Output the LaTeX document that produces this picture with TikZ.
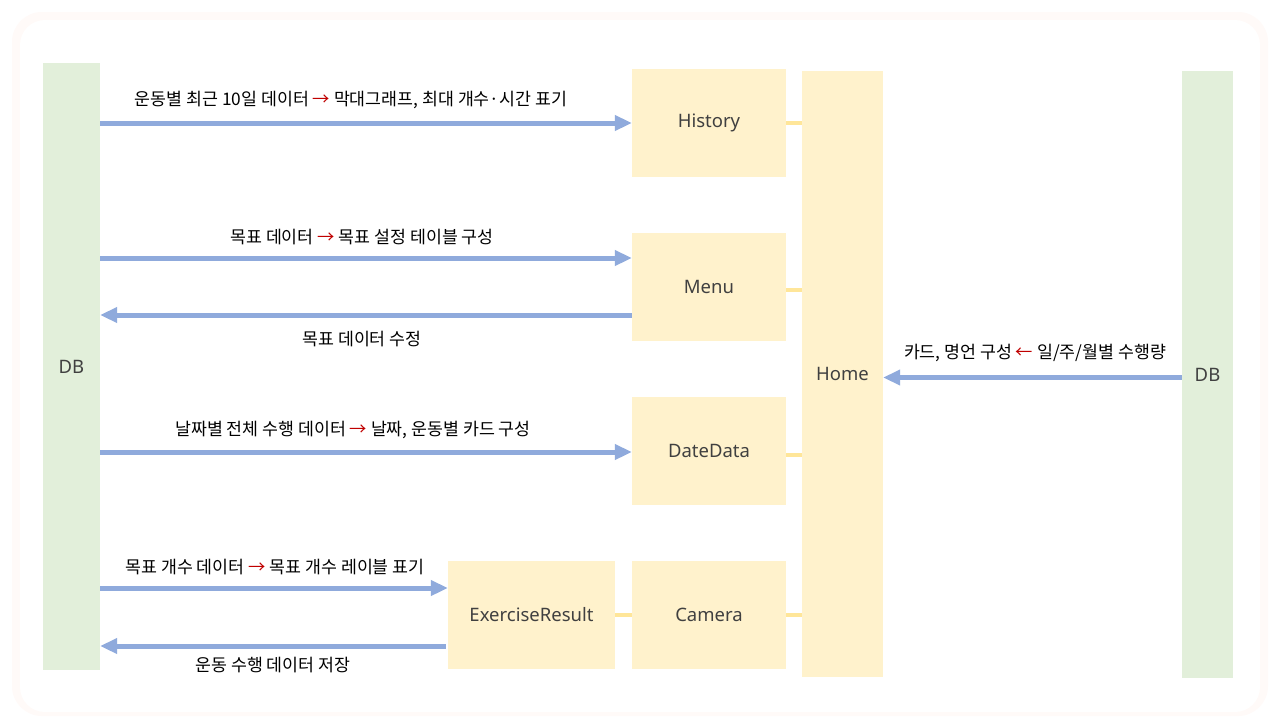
\documentclass[tikz,border=0pt]{standalone}
\usepackage{fontspec}
\setmainfont{Noto Sans}
\newfontfamily\kr{Noto Sans CJK KR}
\usetikzlibrary{arrows.meta,calc}
\definecolor{dbgreen}{HTML}{E2EFDA}
\definecolor{boxyellow}{HTML}{FFF2CC}
\definecolor{linkyellow}{HTML}{FFE699}
\definecolor{arrblue}{HTML}{8FAADC}
\definecolor{labgray}{HTML}{404040}
\definecolor{arrowred}{HTML}{C00000}
\definecolor{shadowc}{HTML}{FFFAF8}
\newcommand{\ra}{\textcolor{arrowred}{→}}
\newcommand{\la}{\textcolor{arrowred}{←}}
\begin{document}
\begin{tikzpicture}[x=1pt,y=-1pt,
  dbbox/.style={fill=dbgreen,draw=none,inner sep=0pt,font=\fontsize{18.5}{22}\selectfont,text=labgray},
  modbox/.style={fill=boxyellow,draw=none,inner sep=0pt,font=\fontsize{18.5}{22}\selectfont,text=labgray},
  link/.style={draw=linkyellow,line width=4pt},
  arr/.style={draw=arrblue,line width=5pt,-{Triangle[length=17pt,width=15pt]}},
  lab/.style={font=\kr\fontsize{17.3}{20}\selectfont,text=black,inner sep=0pt}]
\useasboundingbox (0,0) rectangle (1280,720);
\fill[white] (0,0) rectangle (1280,720);
\fill[shadowc,rounded corners=30pt] (12,12) rectangle (1268,716);
\fill[white,rounded corners=25pt] (20,20) rectangle (1260,712);

\node[dbbox,minimum width=57pt,minimum height=607pt] (DBL) at (71.5,366.5) {DB};
\node[dbbox,minimum width=51pt,minimum height=607pt] (DBR) at (1207.5,374.5) {DB};
\node[modbox,minimum width=154pt,minimum height=108pt] (History) at (709,123) {History};
\node[modbox,minimum width=154pt,minimum height=108pt] (Menu) at (709,287) {Menu};
\node[modbox,minimum width=154pt,minimum height=108pt] (DateData) at (709,451) {DateData};
\node[modbox,minimum width=154pt,minimum height=108pt] (Camera) at (709,615) {Camera};
\node[modbox,minimum width=167pt,minimum height=108pt] (ExRes) at (531.5,615) {ExerciseResult};
\node[modbox,minimum width=81pt,minimum height=606pt] (Home) at (842.5,374) {Home};

\draw[link] (History.east) -- (History.east -| Home.west);
\draw[link] ($(Menu.east)+(0,3)$) -- ($(Menu.east -| Home.west)+(0,3)$);
\draw[link] ($(DateData.east)+(0,4)$) -- ($(DateData.east -| Home.west)+(0,4)$);
\draw[link] (Camera.east) -- (Camera.east -| Home.west);
\draw[link] (ExRes.east) -- (Camera.west);

\coordinate (h1) at (History.west);
\coordinate (m1) at ($(Menu.west)+(0,-29)$);
\coordinate (m2) at ($(Menu.west)+(0,28)$);
\coordinate (d1) at ($(DateData.west)+(0,1)$);
\coordinate (e1) at ($(ExRes.west)+(0,-27)$);
\coordinate (e2) at ($(ExRes.west)+(-2,31)$);
\coordinate (r1) at ($(DBR.west)+(0,3)$);

\draw[arr] (DBL.east |- h1) -- (h1);
\draw[arr] (DBL.east |- m1) -- (m1);
\draw[arr] (m2) -- (DBL.east |- m2);
\draw[arr] (DBL.east |- d1) -- (d1);
\draw[arr] (DBL.east |- e1) -- (e1);
\draw[arr] (e2) -- (DBL.east |- e2);
\draw[arr] (r1) -- (Home.east |- r1);

\node[lab] (t1) at (351,100) {운동별 최근 10일 데이터 \ra{} 막대그래프, 최대 개수·시간 표기};
\node[lab] (t2) at (362,237) {목표 데이터 \ra{} 목표 설정 테이블 구성};
\node[lab] (t3) at (362,339) {목표 데이터 수정};
\node[lab] (t4) at (353,430) {날짜별 전체 수행 데이터 \ra{} 날짜, 운동별 카드 구성};
\node[lab] (t5) at (275,567) {목표 개수 데이터 \ra{} 목표 개수 레이블 표기};
\node[lab] (t6) at (273,665) {운동 수행 데이터 저장};
\node[lab] (t7) at (1035,353) {카드, 명언 구성 \la{} 일/주/월별 수행량};
\end{tikzpicture}
\end{document}
